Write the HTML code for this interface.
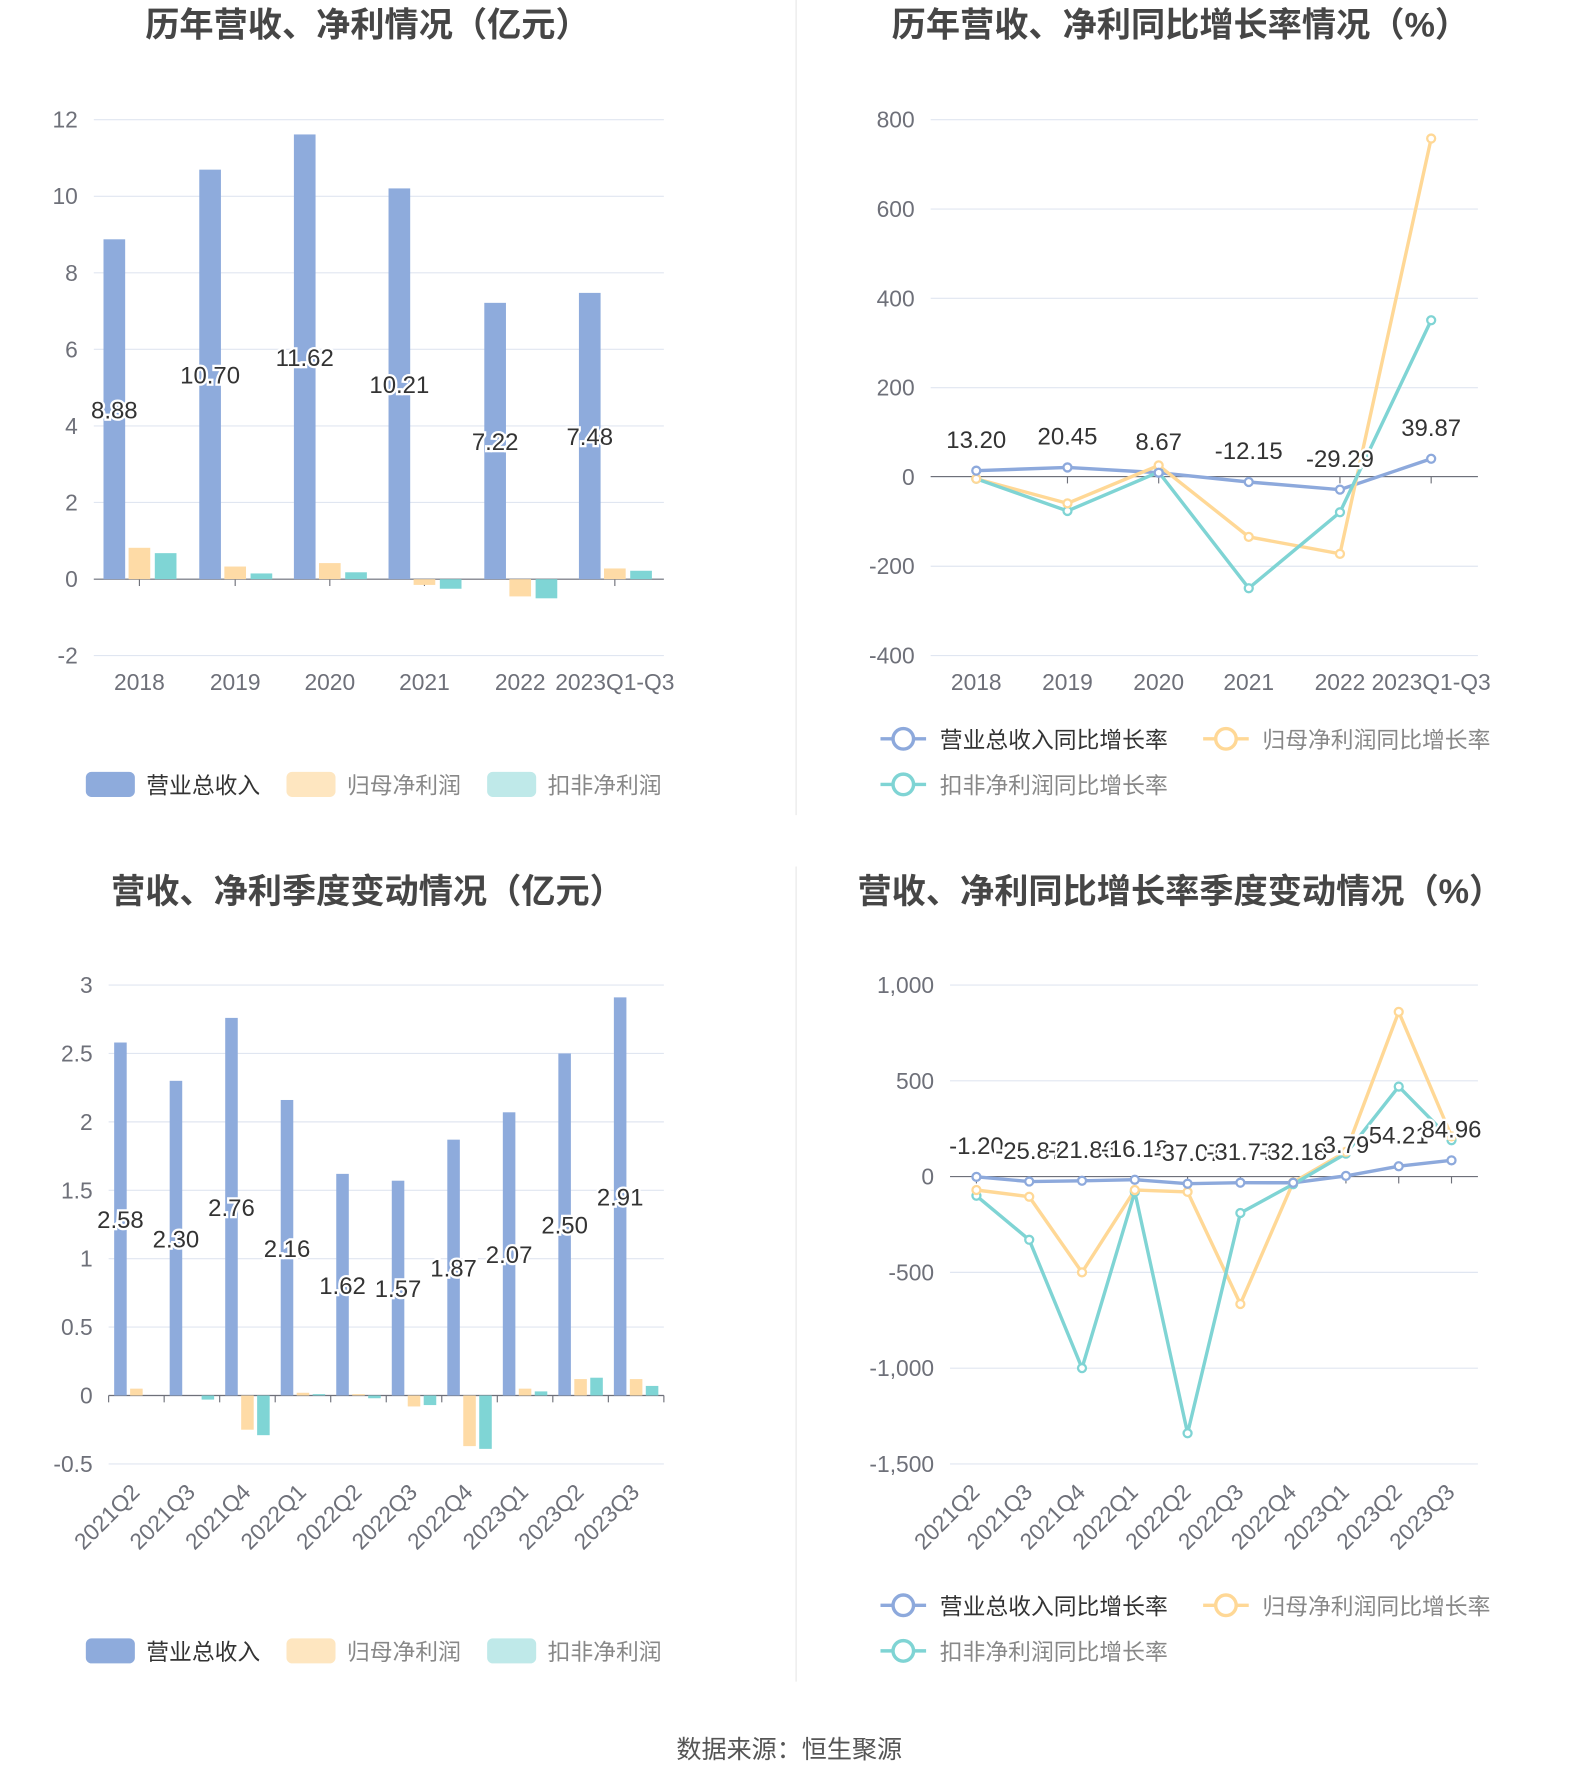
<!DOCTYPE html>
<html><head><meta charset="utf-8"><style>
html,body{margin:0;padding:0;background:#fff;}
svg{display:block;font-family:"Liberation Sans","Noto Sans CJK SC",sans-serif;}
</style></head><body>
<svg id="s" width="1574" height="1782" viewBox="0 0 1380 1563" xmlns="http://www.w3.org/2000/svg"></svg>
<script>
const S=document.getElementById('s');let h='';
const B='#8eabdc',Y='#fedba6',T='#7fd5d5',LB='#8da9dc',LY='#ffd896',LT='#7fd4d4',G='#e0e6f1',TX='#6e7079';
function t(x,y,s,o){o=o||{};h+=`<text x="${x}" y="${y}" font-size="${o.fs||20}" fill="${o.c||TX}" text-anchor="${o.a||'middle'}" ${o.w?'font-weight="bold"':''} ${o.st?'stroke="#fff" stroke-width="4" paint-order="stroke"':''} ${o.r?`transform="rotate(${o.r} ${x} ${y})"`:''}>${s}</text>`;}
function axis(x0,x1,ticks,y0,dy,fmt){ticks.forEach((v,i)=>{const y=y0+i*dy;h+=`<line x1="${x0}" x2="${x1}" y1="${y}" y2="${y}" stroke="${G}" stroke-width="1"/>`;t(x0-14,y+7,fmt(v),{a:'end'});});}
function title(x,y,s){t(x,y,s,{fs:30,w:1,c:'#464646'});}
h+=`<line x1="698" x2="698" y1="0" y2="715" stroke="#e8e8e8"/><line x1="698" x2="698" y1="760" y2="1475" stroke="#e8e8e8"/>`;
title(322,32,'历年营收、净利情况（亿元）');
axis(82,582,[12,10,8,6,4,2,0,-2],105,470/7,v=>v);
{const z=508,k=33.57,cats=['2018','2019','2020','2021','2022','2023Q1-Q3'],c=[122,206,289,372,456,539];
const r=[8.88,10.70,11.62,10.21,7.22,7.48],n=[0.82,0.33,0.42,-0.15,-0.45,0.28],d=[0.68,0.15,0.18,-0.25,-0.5,0.22];
h+=`<line x1="82" x2="582" y1="${z}" y2="${z}" stroke="#6e7079"/>`;
c.forEach((x,i)=>{h+=`<line x1="${x}" x2="${x}" y1="${z}" y2="${z+6}" stroke="#6e7079"/>`;
[[r[i],-22,B],[n[i],0,Y],[d[i],23,T]].forEach(([v,o,col])=>{const y=v>=0?z-v*k:z;h+=`<rect x="${x+o-9.5}" y="${y}" width="19" height="${Math.abs(v)*k}" fill="${col}"/>`;});
t(x,605,cats[i]);});
c.forEach((x,i)=>t(x-22,z-r[i]*k/2+8,r[i].toFixed(2),{st:1,c:'#333',fs:21}));}
function legBar(y){[[75,B,'营业总收入'],[251,Y,'归母净利润'],[427,T,'扣非净利润']].forEach(([x,col,s],i)=>{h+=`<rect x="${x}" y="${y-11}" width="43" height="22" rx="5" fill="${i==0?col:(i==1?'#fee6c0':'#bfe9e9')}"/>`;t(x+53,y+8,s,{a:'start',c:i==0?'#333':'#888'});});}
legBar(688);
function lines(c,series,z,k,lab,ly){series.forEach(([vals,col])=>{h+=`<polyline fill="none" stroke="${col}" stroke-width="3" points="${vals.map((v,i)=>c[i]+','+(z-v*k)).join(' ')}"/>`;});
series.slice().reverse().forEach(([vals,col])=>vals.forEach((v,i)=>{h+=`<circle cx="${c[i]}" cy="${z-v*k}" r="3.5" fill="#fff" stroke="${col}" stroke-width="2"/>`;}));
series[0][0].forEach((v,i)=>t(c[i],z-v*k-ly,lab[i],{st:1,c:'#333',fs:21}));}
function legLine(x,y,col,s){h+=`<line x1="${x}" x2="${x+40}" y1="${y}" y2="${y}" stroke="${col}" stroke-width="3"/><circle cx="${x+20}" cy="${y}" r="9" fill="#fff" stroke="${col}" stroke-width="3"/>`;t(x+52,y+8,s,{a:'start',c:col==LB?'#333':'#888'});}
function legs(y){legLine(772,y,LB,'营业总收入同比增长率');legLine(1055,y,LY,'归母净利润同比增长率');legLine(772,y+40,LT,'扣非净利润同比增长率');}
title(1035,32,'历年营收、净利同比增长率情况（%）');
axis(816,1296,[800,600,400,200,0,-200,-400],105,470/6,v=>v);
{const z=418,k=78.33/200,c=[856,936,1016,1095,1175,1255],cats=['2018','2019','2020','2021','2022','2023Q1-Q3'];
h+=`<line x1="816" x2="1296" y1="${z}" y2="${z}" stroke="#6e7079"/>`;
c.forEach((x,i)=>{h+=`<line x1="${x}" x2="${x}" y1="${z}" y2="${z+6}" stroke="#6e7079"/>`;t(x,605,cats[i]);});
const r=[13.20,20.45,8.67,-12.15,-29.29,39.87];
lines(c,[[r,LB],[[-5,-60,25,-135,-173,757],LY],[[-5,-77,10,-250,-80,350],LT]],z,k,r.map(v=>v.toFixed(2)),20);}
legs(648);
title(322,792,'营收、净利季度变动情况（亿元）');
const qc=['2021Q2','2021Q3','2021Q4','2022Q1','2022Q2','2022Q3','2022Q4','2023Q1','2023Q2','2023Q3'];
axis(95,582,[3,2.5,2,1.5,1,0.5,0,-0.5],864,60,v=>v);
{const z=1224,k=120,w=487/10,c=qc.map((_,i)=>95+w*(i+0.5));
h+=`<line x1="95" x2="582" y1="${z}" y2="${z}" stroke="#6e7079"/>`;
const r=[2.58,2.30,2.76,2.16,1.62,1.57,1.87,2.07,2.50,2.91],n=[0.05,0,-0.25,0.02,0.01,-0.08,-0.37,0.05,0.12,0.12],d=[0,-0.03,-0.29,0.01,-0.02,-0.07,-0.39,0.03,0.13,0.07];
for(let i=0;i<=10;i++){const x=95+w*i;h+=`<line x1="${x}" x2="${x}" y1="${z}" y2="${z+6}" stroke="#6e7079"/>`;}
c.forEach((x,i)=>{[[r[i],-14,B],[n[i],0,Y],[d[i],14,T]].forEach(([v,o,col])=>{const y=v>=0?z-v*k:z;h+=`<rect x="${x+o-5.5}" y="${y}" width="11" height="${Math.abs(v)*k}" fill="${col}"/>`;});
t(x+4,1310,qc[i],{a:'end',r:-45});});
c.forEach((x,i)=>t(x-14,z-r[i]*k/2+8,r[i].toFixed(2),{st:1,c:'#333',fs:21}));}
legBar(1448);
title(1035,792,'营收、净利同比增长率季度变动情况（%）');
axis(833,1296,[1000,500,0,-500,-1000,-1500],864,84,v=>v.toLocaleString('en-US'));
{const z=1032,k=84/500,w=463/10,c=qc.map((_,i)=>833+w*(i+0.5));
h+=`<line x1="833" x2="1296" y1="${z}" y2="${z}" stroke="#6e7079"/>`;
c.forEach((x,i)=>{h+=`<line x1="${x}" x2="${x}" y1="${z}" y2="${z+6}" stroke="#6e7079"/>`;t(x+4,1310,qc[i],{a:'end',r:-45});});
const r=[-1.20,-25.87,-21.86,-16.18,-37.07,-31.77,-32.18,3.79,54.21,84.96];
lines(c,[[r,LB],[[-70,-105,-500,-70,-80,-665,-30,130,860,210],LY],[[-100,-330,-1000,-80,-1340,-190,-40,120,470,190],LT]],z,k,r.map(v=>v.toFixed(2)),20);}
legs(1408);
t(692,1542,'数据来源：恒生聚源',{fs:22,c:'#555'});
S.innerHTML=h;
</script>
</body></html>
